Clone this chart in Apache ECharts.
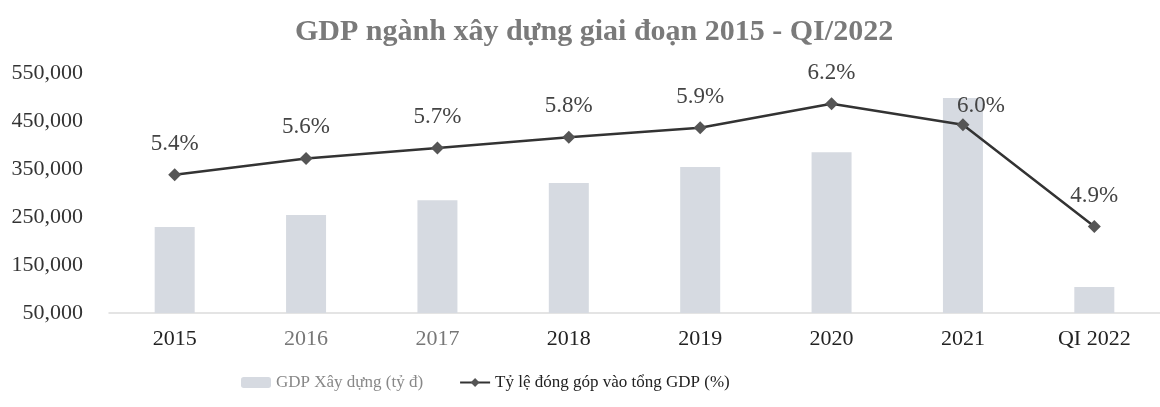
<!DOCTYPE html>
<html>
<head>
<meta charset="utf-8">
<script src="https://cdn.jsdelivr.net/npm/echarts@6/dist/echarts.min.js"></script>
<style>
  html, body { margin: 0; padding: 0; background: #fff; }
  #chart { width: 1160px; height: 407px; }
</style>
</head>
<body>
<div id="chart"></div>
<script>
const categories = ['2015', '2016', '2017', '2018', '2019', '2020', '2021', 'QI 2022']
// GDP xây dựng (tỷ đồng)
const gdpValues = [229000, 254000, 285000, 321000, 354000, 385000, 498000, 104000]
// tỷ lệ đóng góp (%)
const shareValues = [5.44, 5.61, 5.72, 5.83, 5.93, 6.18, 5.96, 4.9]
const yTicks = [50000, 550000, 100000] // min, max, interval

const serif = '"Liberation Serif", "DejaVu Serif", serif'
const catColors = ['#222', '#777', '#777', '#222', '#222', '#222', '#222', '#222']

const chart = echarts.init(document.getElementById('chart'), null, { renderer: 'canvas' })

chart.setOption({
  backgroundColor: '#fff',
  animation: false,
  title: {
    text: 'GDP ngành xây dựng giai đoạn 2015 - QI/2022',
    left: 290,
    top: 12,
    textStyle: { fontFamily: serif, fontSize: 30, fontWeight: 'bold', color: '#7a7a7a' }
  },
  legend: {
    bottom: 11,
    left: 236,
    itemGap: 36,
    itemWidth: 30,
    itemHeight: 11,
    textStyle: { fontFamily: serif, fontSize: 17, color: '#333' },
    data: [
      { name: 'GDP Xây dựng (tỷ đ)', textStyle: { color: '#888' } },
      { name: 'Tỷ lệ đóng góp vào tổng GDP (%)', textStyle: { color: '#222' } }
    ]
  },
  grid: { left: 109, top: 73, width: 1055, height: 240 },
  xAxis: {
    type: 'category',
    data: categories.map((c, i) => ({ value: c, textStyle: { color: catColors[i] } })),
    axisLine: { lineStyle: { color: '#dcdcdc', width: 1.5 } },
    axisTick: { show: false },
    axisLabel: { fontFamily: serif, fontSize: 22, margin: 15 }
  },
  yAxis: [
    {
      type: 'value',
      min: yTicks[0], max: yTicks[1], interval: yTicks[2],
      splitLine: { show: false },
      axisLine: { show: false },
      axisTick: { show: false },
      axisLabel: {
        fontFamily: serif, fontSize: 22, color: '#333', margin: 26,
        formatter: v => v.toLocaleString('en-US')
      }
    },
    {
      type: 'value', min: 4, max: 6.5, show: false,
      splitLine: { show: false }
    }
  ],
  series: [
    {
      name: 'GDP Xây dựng (tỷ đ)',
      type: 'bar',
      data: gdpValues,
      barWidth: 40,
      itemStyle: { color: '#d6dae1' }
    },
    {
      name: 'Tỷ lệ đóng góp vào tổng GDP (%)',
      type: 'line',
      yAxisIndex: 1,
      data: shareValues.map((v, i) => i === 6
        ? { value: v, label: { offset: [18, 12] } }
        : v),
      symbol: 'diamond',
      symbolSize: 13,
      itemStyle: { color: '#555' },
      lineStyle: { color: '#333', width: 2.5 },
      label: {
        show: true,
        position: 'top',
        distance: 13,
        fontFamily: serif,
        fontSize: 23,
        color: '#444',
        formatter: p => p.value.toFixed(1) + '%'
      }
    }
  ]
})
</script>
</body>
</html>
